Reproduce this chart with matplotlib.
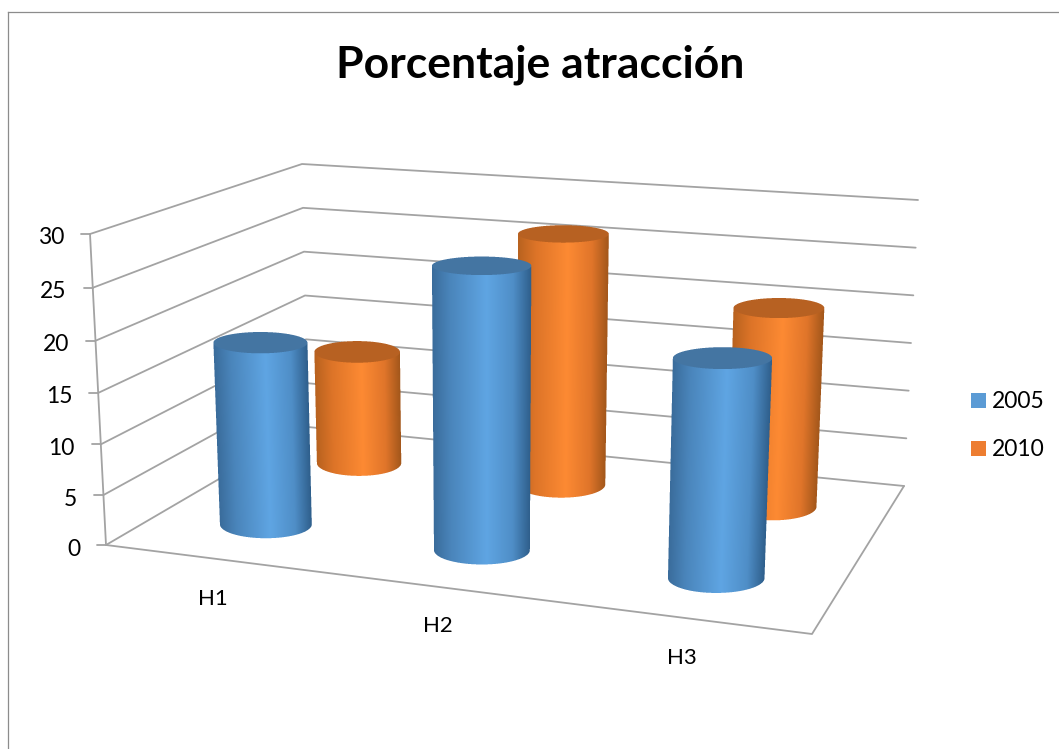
import numpy as np
import matplotlib
matplotlib.use("Agg")
import matplotlib.pyplot as plt
from matplotlib.colors import LinearSegmentedColormap, to_rgb
from matplotlib.patches import Rectangle

# Chart data
categories = ["H1", "H2", "H3"]
series_names = ["2005", "2010"]
values_2005 = [18.3, 27.6, 20.9]
values_2010 = [12.1, 26.4, 20.4]
axis_ticks = [0, 5, 10, 15, 20, 25, 30]
chart_title = "Porcentaje atracción"

# Layout of the 3D box in figure pixels: (front/back, left/right) at value 0 and at the top value
Z_MAX = 30.0
BOX_Z0 = {"fl": (106, 545), "fr": (812, 634), "bl": (308, 427), "br": (904, 486)}
BOX_ZT = {"fl": (90, 234), "fr": (826, 296), "bl": (302, 164), "br": (918, 200)}
DEPTH_FORESHORTEN = 0.045
CAT_U = {"2005": [0.153, 0.473, 0.82], "2010": [0.154, 0.48, 0.82]}
SERIES_V = {"2005": 0.28, "2010": 0.78}
RADIUS_U = [0.068, 0.071, 0.0715]
LABEL_OFFSET = [(-1, 40), (-2, 39), (-3, 40)]

GRID = "#a3a3a3"
FRAME = "#8c8c8c"
TEXT = "#000000"
LEGEND_COLORS = {"2005": "#5b9bd5", "2010": "#ed7d31"}
TOP_COLORS = {"2005": "#4475a3", "2010": "#b86122"}
BODY_COLORS = {
    "2005": [(0, "#3a6c9b"), (0.18, "#4a85bb"), (0.55, "#5fa5e3"), (0.82, "#4f8ec7"), (1, "#2f5f8c")],
    "2010": [(0, "#b8621f"), (0.2, "#dd7428"), (0.55, "#fd8a33"), (0.82, "#e0752a"), (1, "#a3571b")],
}

plt.rcParams["font.family"] = ["Lato", "DejaVu Sans"]

fig = plt.figure(figsize=(10.59, 7.49), dpi=100, facecolor="white")
ax = fig.add_axes([0, 0, 1, 1])


def project(u, v, z):
    """Map category position u, depth v and value z to pixel coordinates."""
    def bilinear(box):
        fl, fr, bl, br = (np.array(box[k], float) for k in ("fl", "fr", "bl", "br"))
        return (1 - v) * ((1 - u) * fl + u * fr) + v * ((1 - u) * bl + u * br)
    t = z / Z_MAX
    t = t / (1 + DEPTH_FORESHORTEN * (1 - v) * (1 - t))
    return (1 - t) * bilinear(BOX_Z0) + t * bilinear(BOX_ZT)


def draw_line(points, color=GRID, lw=1.3, zorder=2):
    pts = np.array(points)
    ax.plot(pts[:, 0], pts[:, 1], color=color, lw=lw, zorder=zorder, solid_capstyle="round")


# Outer chart frame
ax.plot([8, 8], [749, 12], color=FRAME, lw=0.9, zorder=1)
ax.plot([8, 1059], [12, 12], color=FRAME, lw=0.9, zorder=1)

# Wall gridlines, floor outline and value axis
for tick in axis_ticks:
    draw_line([project(0, 0, tick), project(0, 1, tick), project(1, 1, tick)])
    x0, y0 = project(0, 0, tick)
    draw_line([(x0 - 9, y0), (x0, y0)])
    ax.text(x0 - 26, y0 + 4, str(tick), ha="right", va="center",
            fontsize=16.5, color=TEXT, zorder=6)
draw_line([project(0, 0, 0), project(1, 0, 0), project(1, 1, 0)])
draw_line([project(0, 0, 0), project(0, 0, Z_MAX)])

# Category labels below the front edge
for name, u, (dx, dy) in zip(categories, CAT_U["2005"], LABEL_OFFSET):
    x0, y0 = project(u, 0, 0)
    ax.text(x0 + dx, y0 + dy, name, ha="center", va="center", fontsize=16, color=TEXT, zorder=6)


def minor_axis(y):
    # Ellipses open up the further they sit below eye level
    return 4.5 + 0.018 * y


def draw_cylinder(u, v, radius, value, series, zorder):
    """Paint one cylinder as an antialiased image aligned to the pixel grid."""
    cmap = LinearSegmentedColormap.from_list(series + "_body", BODY_COLORS[series])
    bottom = project(u, v, 0)
    top = project(u, v, value)
    a_bottom = (project(u + radius, v, 0)[0] - project(u - radius, v, 0)[0]) / 2
    a_top = (project(u + radius, v, value)[0] - project(u - radius, v, value)[0]) / 2
    b_bottom = minor_axis(bottom[1])
    b_top = minor_axis(top[1])

    x0 = int(min(bottom[0] - a_bottom, top[0] - a_top)) - 2
    x1 = int(max(bottom[0] + a_bottom, top[0] + a_top)) + 3
    y0 = int(top[1] - b_top) - 2
    y1 = int(bottom[1] + b_bottom) + 3

    # Supersampled pixel grid
    ss = 4
    xs = x0 + (np.arange((x1 - x0) * ss) + 0.5) / ss
    ys = y0 + (np.arange((y1 - y0) * ss) + 0.5) / ss
    X, Y = np.meshgrid(xs, ys)

    s = np.clip((Y - top[1]) / (bottom[1] - top[1]), 0, 1)
    cx = top[0] + s * (bottom[0] - top[0])
    half = a_top + s * (a_bottom - a_top)
    across = (X - cx) / half

    in_side = (np.abs(across) <= 1) & (Y >= top[1]) & (Y <= bottom[1])
    in_base = ((X - bottom[0]) / a_bottom) ** 2 + ((Y - bottom[1]) / b_bottom) ** 2 <= 1
    in_lid = ((X - top[0]) / a_top) ** 2 + ((Y - top[1]) / b_top) ** 2 <= 1

    rgb = cmap(np.clip((across + 1) / 2, 0, 1))[..., :3]
    rgb[in_lid] = to_rgb(TOP_COLORS[series])
    alpha = (in_side | in_base | in_lid).astype(float)

    # Average down to real pixels, weighting colour by coverage
    def reduce(arr):
        h, w = arr.shape[:2]
        return arr.reshape(h // ss, ss, w // ss, ss, *arr.shape[2:]).mean(axis=(1, 3))

    cov = reduce(alpha)
    premult = reduce(rgb * alpha[..., None])
    colour = np.where(cov[..., None] > 0, premult / np.maximum(cov[..., None], 1e-6), 1.0)
    ax.imshow(np.dstack([colour, cov]), extent=(x0, x1, y1, y0), origin="upper",
              interpolation="nearest", aspect="auto", zorder=zorder)


# Rear series first so the front series overlaps it
for i, (u, r) in enumerate(zip(CAT_U["2010"], RADIUS_U)):
    draw_cylinder(u, SERIES_V["2010"], r, values_2010[i], "2010", 3 + i * 0.01)
for i, (u, r) in enumerate(zip(CAT_U["2005"], RADIUS_U)):
    draw_cylinder(u, SERIES_V["2005"], r, values_2005[i], "2005", 4 + i * 0.01)

# Title
ax.text(540.5, 65, chart_title, ha="center", va="center", fontsize=32, fontweight="bold",
        color=TEXT, zorder=6)

# Legend
for name, y in zip(series_names, [400.5, 448.5]):
    ax.add_patch(Rectangle((971, y - 7.5), 15, 15, facecolor=LEGEND_COLORS[name],
                           edgecolor="none", zorder=6))
    ax.text(992, y + 1.5, name, ha="left", va="center", fontsize=16.5, color=TEXT, zorder=6)

ax.set_xlim(0, 1059)
ax.set_ylim(749, 0)
ax.axis("off")

fig.savefig("out.png", dpi=100, facecolor="white")
